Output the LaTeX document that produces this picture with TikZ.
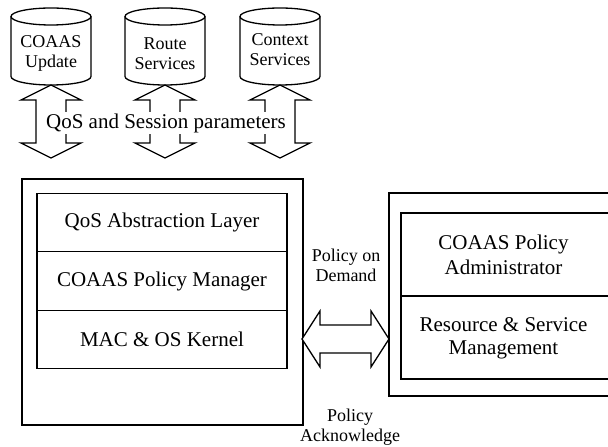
\documentclass[tikz,border=0pt]{standalone}
\usepackage{fontspec}
\setmainfont{Liberation Serif}
\usetikzlibrary{calc}
\begin{document}
\begin{tikzpicture}[x=1pt,y=1pt,line join=miter,
  outline/.style={draw=black,line width=1.3pt},
  big/.style={font=\fontsize{21}{25}\selectfont},
  small/.style={font=\fontsize{18}{20}\selectfont},
  layerbox/.style={outline,big,minimum width=250pt,minimum height=58.5pt,inner sep=0pt},
  rowbox/.style={outline,minimum width=219pt,minimum height=83pt,inner sep=0pt},
  blockarrow/.style={outline,fill=white}]
\useasboundingbox (0,0) rectangle (608,447);
\clip (0,0) rectangle (608,447);

% --- data stores along the top
\foreach \cx/\name/\txt/\ty in {51/cyA/{COAAS\\Update}/394,
                                165/cyB/{Route\\Services}/393,
                                280/cyC/{Context\\Services}/397}{
  \draw[outline] (\cx-40,430.5) -- (\cx-40,370.5)
     arc[start angle=180,end angle=360,x radius=40,y radius=8.5]
     -- (\cx+40,430.5);
  \draw[outline] (\cx,430.5) ellipse[x radius=40,y radius=8.5];
  \coordinate (\name-b) at (\cx,362);
  \node[small,align=center] (\name) at (\cx,\ty) {\txt};
}

% --- vertical double block arrows below the stores
\foreach \name in {cyA,cyB,cyC}{
  \draw[blockarrow] (\name-b) -- ++(30,-15) -- ++(-15,0) -- ++(0,-43)
     -- ++(15,0) -- ++(-30,-15) -- ++(-30,15) -- ++(15,0) -- ++(0,43)
     -- ++(-15,0) -- cycle;
}
\node[big,fill=white,inner sep=1pt] (qos) at (166,324) {QoS and Session parameters};

% --- node stack (left)
\node[outline,minimum width=281pt,minimum height=246pt,inner sep=0pt] (host) at (162.5,145) {};
\node[layerbox] (qal) at (162,224.5) {QoS Abstraction Layer};
\node[layerbox] (cpm) at (162,166)   {COAAS Policy Manager};
\node[layerbox] (mac) at (162,107.5) {MAC \& OS Kernel};

% --- policy server (right)
\node[outline,minimum width=243pt,minimum height=203pt,inner sep=0pt] (srv) at (510.5,152.5) {};
\node[rowbox] (adm) at (510.5,192.5) {};
\node[rowbox] (rsm) at (510.5,109.5) {};
\node[big,align=center,font=\fontsize{21}{25}\selectfont] (admtxt) at (503.5,192) {COAAS Policy\\Administrator};
\node[big,align=center,font=\fontsize{21}{23}\selectfont] (rsmtxt) at (503.5,109) {Resource \& Service\\Management};

% --- exchange between the two
\coordinate (hL) at (302,108);
\coordinate (hR) at (389,108);
\draw[blockarrow] (hL) -- ++(18,28) -- ++(0,-14) -- ($(hR)+(-18,14)$) -- ++(0,14)
   -- (hR) -- ++(-18,-28) -- ++(0,14) -- ($(hL)+(18,-14)$) -- ++(0,-14) -- cycle;

\node[small,align=center] (pod)  at (346,181.4) {Policy on\\Demand};
\node[small,align=center] (pack) at (350,19.7)  {Policy\\Acknowledge};
\end{tikzpicture}
\end{document}
